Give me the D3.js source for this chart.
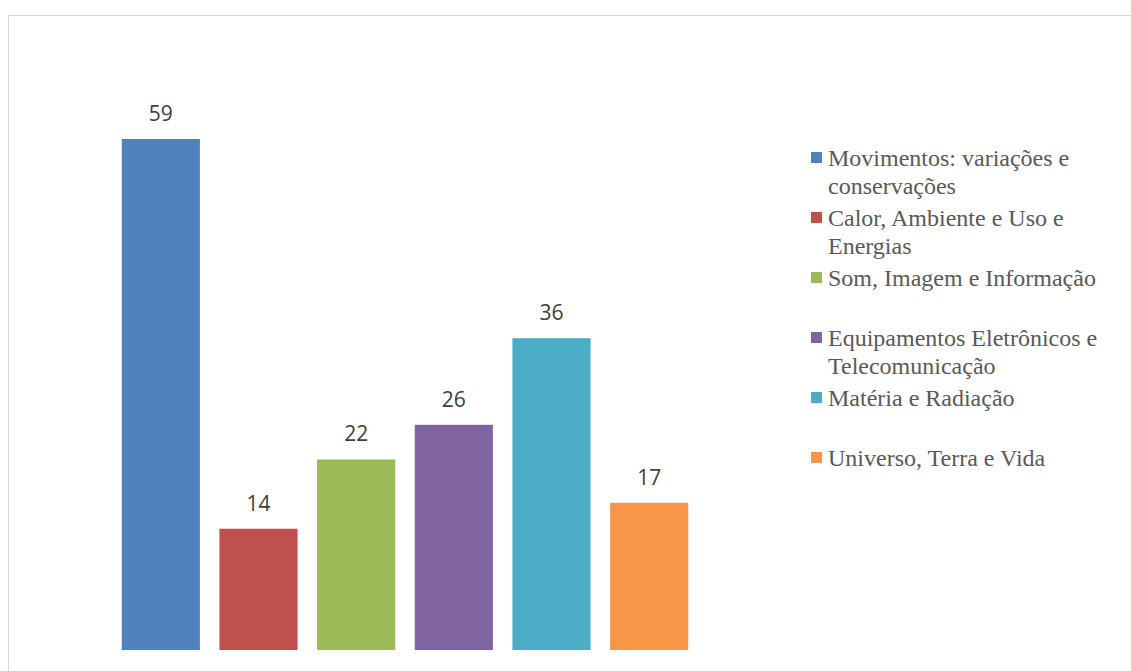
<!DOCTYPE html>
<html>
<head>
<meta charset="utf-8">
<script src="https://cdn.jsdelivr.net/npm/d3@7"></script>
<style>
  body { margin: 0; background: #fff; }
  svg { display: block; }
</style>
</head>
<body>
<svg id="chart" width="1131" height="671"></svg>
<script>
// chart data
const categories = [
  "Movimentos: variações e conservações",
  "Calor, Ambiente e Uso e Energias",
  "Som, Imagem e Informação",
  "Equipamentos Eletrônicos e Telecomunicação",
  "Matéria e Radiação",
  "Universo, Terra e Vida"
];
const values = [59, 14, 22, 26, 36, 17];
const colors = ["#4f81bd", "#c0504d", "#9bbb59", "#8064a2", "#4bacc6", "#f79646"];
// how the legend wraps each label
const legendLines = [
  ["Movimentos: variações e", "conservações"],
  ["Calor, Ambiente e Uso e", "Energias"],
  ["Som, Imagem e Informação"],
  ["Equipamentos Eletrônicos e", "Telecomunicação"],
  ["Matéria e Radiação"],
  ["Universo, Terra e Vida"]
];

const svg = d3.select("#chart");

// outer chart border (runs off the right and bottom edge)
svg.append("rect")
  .attr("x", 8.5).attr("y", 15.5)
  .attr("width", 1200).attr("height", 700)
  .attr("fill", "none")
  .attr("stroke", "#d9d9d9");

const x = d3.scaleBand()
  .domain(categories)
  .range([112, 698])
  .paddingInner(0.2)
  .paddingOuter(0.1);

const y = d3.scaleLinear()
  .domain([0, 59])
  .range([650, 139]);

const bars = svg.append("g");

bars.selectAll("rect")
  .data(categories)
  .join("rect")
  .attr("x", d => x(d))
  .attr("y", (d, i) => y(values[i]))
  .attr("width", x.bandwidth())
  .attr("height", (d, i) => y(0) - y(values[i]))
  .attr("fill", (d, i) => colors[i]);

// value labels above bars
bars.selectAll("text")
  .data(categories)
  .join("text")
  .attr("x", d => x(d) + x.bandwidth() / 2)
  .attr("y", (d, i) => y(values[i]) - 18)
  .attr("text-anchor", "middle")
  .attr("font-family", "'Open Sans', 'Liberation Sans', sans-serif")
  .attr("font-size", 21)
  .attr("fill", "#404040")
  .text((d, i) => values[i]);

// legend
const legend = svg.append("g");
const slot = 60;
const item = legend.selectAll("g")
  .data(categories)
  .join("g")
  .attr("transform", (d, i) => `translate(811, ${158 + i * slot})`);

item.append("rect")
  .attr("x", 0).attr("y", -6)
  .attr("width", 11).attr("height", 11)
  .attr("fill", (d, i) => colors[i]);

item.each(function (d, i) {
  const g = d3.select(this);
  legendLines[i].forEach((line, j) => {
    g.append("text")
      .attr("x", 17)
      .attr("y", j * 28)
      .attr("dy", "0.35em")
      .attr("font-family", "'Liberation Serif', 'Times New Roman', serif")
      .attr("font-size", 24)
      .attr("fill", "#595959")
      .text(line);
  });
});
</script>
</body>
</html>
